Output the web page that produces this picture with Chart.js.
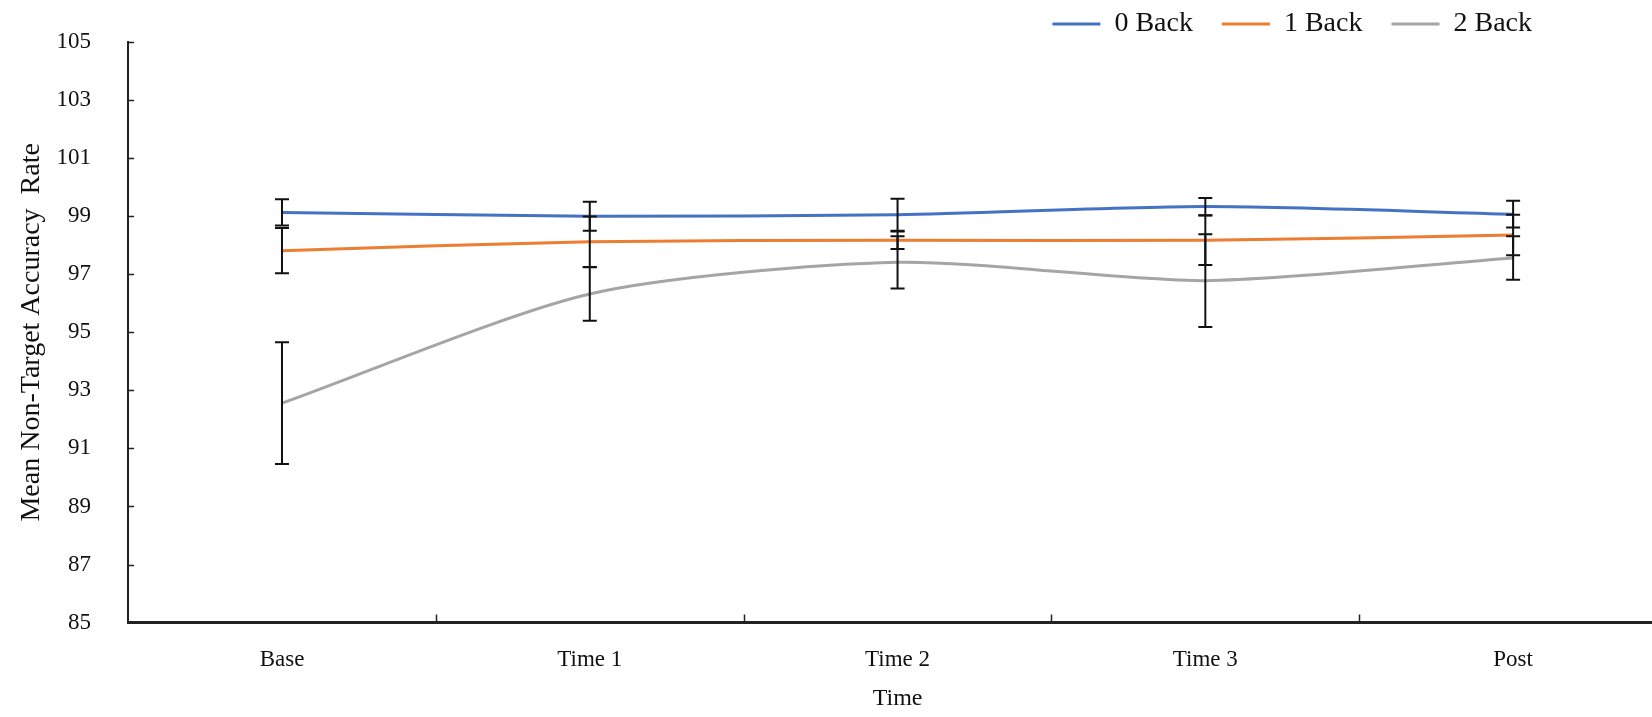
<!DOCTYPE html>
<html>
<head>
<meta charset="utf-8">
<script src="https://cdn.jsdelivr.net/npm/chart.js@4.4.1/dist/chart.umd.min.js"></script>
<style>
  html, body { margin: 0; padding: 0; background: #fff; overflow: hidden; }
  #wrap { width: 1672px; height: 717px; position: relative; }
</style>
</head>
<body>
<div id="wrap"><canvas id="accChart"></canvas></div>
<script>
// Data
const categories = ['Base', 'Time 1', 'Time 2', 'Time 3', 'Post'];
const back0Mean = [99.13, 99.0, 99.05, 99.33, 99.07];
const back0Err  = [0.45, 0.5, 0.55, 0.3, 0.46];
const back1Mean = [97.81, 98.12, 98.17, 98.17, 98.35];
const back1Err  = [0.78, 0.87, 0.3, 0.85, 0.7];
const back2Mean = [92.56, 96.32, 97.41, 96.78, 97.56];
const back2Err  = [2.1, 0.92, 0.9, 1.6, 0.75];
const yMin = 85, yMax = 105, yStep = 2;

const SERIF = "'Liberation Serif', 'Times New Roman', serif";

// black error bars with caps
const errorBars = {
    id: 'errorBars',
    afterDatasetsDraw(chart) {
        const {ctx, scales: {x, y}} = chart;
        ctx.save();
        ctx.strokeStyle = '#111';
        ctx.lineWidth = 2;
        chart.data.datasets.forEach(ds => {
            ds.data.forEach((v, i) => {
                const px = x.getPixelForValue(i);
                const top = y.getPixelForValue(v + ds.errors[i]);
                const bot = y.getPixelForValue(v - ds.errors[i]);
                ctx.beginPath();
                ctx.moveTo(px, top); ctx.lineTo(px, bot);
                ctx.moveTo(px - 7, top); ctx.lineTo(px + 7, top);
                ctx.moveTo(px - 7, bot); ctx.lineTo(px + 7, bot);
                ctx.stroke();
            });
        });
        ctx.restore();
    }
};

// tick marks pointing into the plot, like the original
const innerTicks = {
    id: 'innerTicks',
    afterDraw(chart) {
        const {ctx, chartArea: a, scales: {x, y}} = chart;
        ctx.save();
        ctx.strokeStyle = '#222';
        ctx.lineWidth = 1.5;
        ctx.beginPath();
        y.ticks.forEach(t => {
            if (t.value === yMin) return;
            const py = Math.round(y.getPixelForValue(t.value)) + 0.5;
            ctx.moveTo(a.left, py); ctx.lineTo(a.left + 6, py);
        });
        for (let i = 1; i < categories.length; i++) {
            const px = Math.round((x.getPixelForValue(i - 1) + x.getPixelForValue(i)) / 2) + 0.5;
            ctx.moveTo(px, a.bottom); ctx.lineTo(px, a.bottom - 8);
        }
        ctx.stroke();
        ctx.restore();
    }
};

// move legend to the top-right spot it has in the figure
const legendSpot = {
    id: 'legendSpot',
    afterLayout(chart) {
        const lg = chart.legend;
        const dx = 1561 - lg.right;
        lg.left += dx; lg.right += dx;
        const dy = -19 - lg.top;
        lg.top += dy; lg.bottom += dy;
    }
};

function initChart() {
    const ctx = document.getElementById('accChart').getContext('2d');
    new Chart(ctx, {
        type: 'line',
        data: {
            labels: categories,
            datasets: [
                { label: '0 Back', data: back0Mean, errors: back0Err, borderColor: '#4472C4', backgroundColor: '#4472C4' },
                { label: '1 Back', data: back1Mean, errors: back1Err, borderColor: '#ED7D31', backgroundColor: '#ED7D31' },
                { label: '2 Back', data: back2Mean, errors: back2Err, borderColor: '#A5A5A5', backgroundColor: '#A5A5A5' }
            ].map(d => Object.assign(d, { borderWidth: 3, pointRadius: 0, tension: 0.25, fill: false }))
        },
        options: {
            responsive: true,
            maintainAspectRatio: false,
            animation: false,
            layout: { padding: { top: -25, left: 15, right: 5, bottom: 0 } },
            plugins: {
                legend: {
                    position: 'top',
                    align: 'end',
                    labels: {
                        usePointStyle: true,
                        pointStyle: 'line',
                        pointStyleWidth: 48,
                        padding: 29,
                        color: '#111',
                        font: { family: SERIF, size: 28 }
                    }
                },
                tooltip: { enabled: false }
            },
            scales: {
                x: {
                    offset: true,
                    grid: { display: true, drawOnChartArea: false, drawTicks: false, offset: true },
                    border: { color: '#222', width: 3 },
                    ticks: { color: '#111', padding: 24, font: { family: SERIF, size: 23 } },
                    title: { display: true, text: 'Time', color: '#111', padding: { top: -14, bottom: 4 }, font: { family: SERIF, size: 24 } }
                },
                y: {
                    min: yMin,
                    max: yMax,
                    // invisible outer tick marks only widen the gap between labels and axis
                    grid: { display: true, drawOnChartArea: false, drawTicks: true, tickLength: 27, tickColor: 'rgba(0,0,0,0)' },
                    border: { color: '#222', width: 2 },
                    ticks: { stepSize: yStep, color: '#111', padding: 10, font: { family: SERIF, size: 23 } },
                    title: { display: true, text: 'Mean Non-Target Accuracy  Rate', color: '#111', padding: { top: 0, bottom: -2 }, font: { family: SERIF, size: 28 } }
                }
            }
        },
        plugins: [errorBars, innerTicks, legendSpot]
    });
}

document.addEventListener('DOMContentLoaded', initChart);
</script>
</body>
</html>
